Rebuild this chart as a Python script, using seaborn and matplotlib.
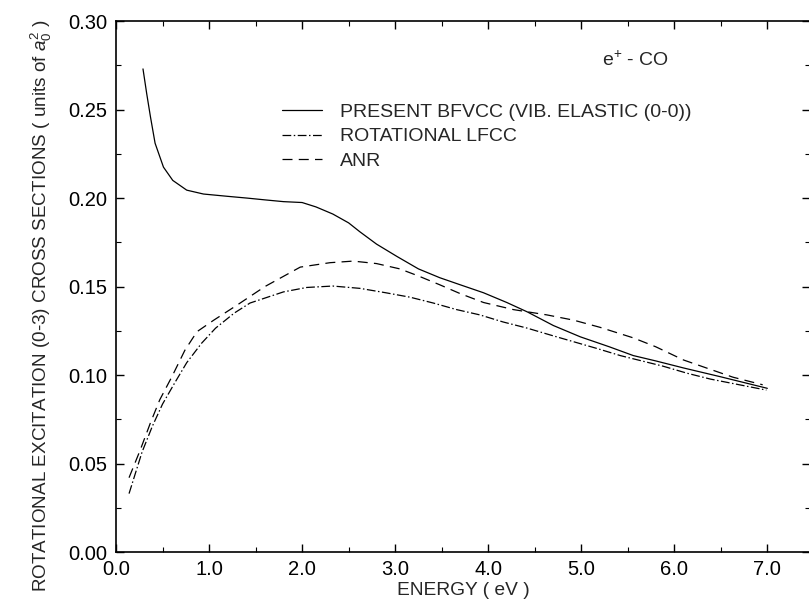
import matplotlib
matplotlib.use("Agg")
import matplotlib.pyplot as plt
import seaborn as sns
from matplotlib.ticker import MultipleLocator, FormatStrFormatter

# e+ - CO rotational excitation (0-3) cross sections
present_x = [0.29, 0.33, 0.37, 0.42, 0.51, 0.61, 0.76, 0.94, 1.2, 1.41, 1.6, 1.8, 2.0, 2.15,
             2.33, 2.5, 2.62, 2.8, 3.02, 3.25, 3.48, 3.7, 3.95, 4.2, 4.42, 4.7, 4.99, 5.3,
             5.56, 5.8, 6.1, 6.5, 7.0]
present_y = [0.273, 0.259, 0.246, 0.231, 0.2175, 0.210, 0.2045, 0.2023, 0.201, 0.200, 0.199,
             0.198, 0.1975, 0.195, 0.191, 0.186, 0.181, 0.174, 0.167, 0.160, 0.155, 0.151,
             0.1465, 0.141, 0.1357, 0.128, 0.1216, 0.116, 0.111, 0.108, 0.104, 0.099, 0.0925]

lfcc_x = [0.14, 0.28, 0.39, 0.50, 0.63, 0.76, 0.92, 1.07, 1.27, 1.44, 1.8, 2.05, 2.33, 2.62,
          2.9, 3.16, 3.41, 3.66, 3.91, 4.16, 4.42, 4.67, 4.92, 5.17, 5.42, 5.65, 5.88, 6.14,
          6.39, 6.7, 6.99]
lfcc_y = [0.033, 0.0565, 0.071, 0.0836, 0.0955, 0.107, 0.118, 0.1265, 0.135, 0.1407, 0.147,
          0.1495, 0.1503, 0.149, 0.1465, 0.144, 0.1407, 0.137, 0.134, 0.130, 0.1265, 0.1226,
          0.1188, 0.115, 0.111, 0.108, 0.105, 0.101, 0.0977, 0.0945, 0.0915]

anr_x = [0.14, 0.26, 0.37, 0.47, 0.60, 0.74, 0.87, 1.05, 1.30, 1.6, 1.98, 2.3, 2.55, 2.8,
         3.05, 3.25, 3.48, 3.7, 3.95, 4.27, 4.63, 4.92, 5.2, 5.56, 5.8, 6.1, 6.4, 6.63, 6.95]
anr_y = [0.042, 0.0576, 0.073, 0.086, 0.099, 0.114, 0.1245, 0.131, 0.1395, 0.150, 0.161,
         0.1635, 0.1644, 0.163, 0.160, 0.156, 0.151, 0.146, 0.141, 0.137, 0.134, 0.131,
         0.127, 0.121, 0.116, 0.1085, 0.103, 0.0988, 0.0945]

labels = ["PRESENT BFVCC (VIB. ELASTIC (0-0))", "ROTATIONAL LFCC", "ANR"]

sns.set_theme(style="ticks")
plt.rcParams["font.family"] = ["Liberation Sans", "DejaVu Sans"]
plt.rcParams["mathtext.fontset"] = "custom"
plt.rcParams["mathtext.rm"] = "Liberation Sans"
plt.rcParams["mathtext.it"] = "Liberation Sans:italic"

fig = plt.figure(figsize=(8.09, 6.06), dpi=100)
ax = fig.add_axes([0.1434, 0.0891, 0.858, 0.876])

sns.lineplot(x=present_x, y=present_y, ax=ax, color="black", lw=0.9,
             linestyle="-", label=labels[0], sort=False)
sns.lineplot(x=lfcc_x, y=lfcc_y, ax=ax, color="black", lw=0.9,
             label=labels[1], sort=False)
ax.lines[-1].set_dashes([7, 2, 1.2, 2])
sns.lineplot(x=anr_x, y=anr_y, ax=ax, color="black", lw=0.9,
             label=labels[2], sort=False)
ax.lines[-1].set_dashes([8, 5])

ax.set_xlim(0, 7.46)
ax.set_ylim(0, 0.30)
ax.xaxis.set_major_locator(MultipleLocator(1.0))
ax.xaxis.set_minor_locator(MultipleLocator(0.5))
ax.yaxis.set_major_locator(MultipleLocator(0.05))
ax.yaxis.set_minor_locator(MultipleLocator(0.025))
ax.xaxis.set_major_formatter(FormatStrFormatter("%.1f"))
ax.yaxis.set_major_formatter(FormatStrFormatter("%.2f"))
ax.tick_params(which="both", direction="in", top=True, right=True, colors="black",
               labelsize=14.5)
ax.tick_params(which="major", length=6, width=1.0, pad=6)
ax.tick_params(which="minor", length=3.5, width=0.8)
for s in ax.spines.values():
    s.set_linewidth(1.2)
    s.set_color("black")

ax.set_xlabel("ENERGY ( eV )", fontsize=13.8)
ax.set_ylabel(r"ROTATIONAL EXCITATION (0-3) CROSS SECTIONS ( units of $\mathit{a}_0^2$ )",
              fontsize=13.6)
ax.xaxis.set_label_coords(0.5, -0.056)
ax.yaxis.set_label_coords(-0.09, 0.465)

ax.text(5.58, 0.278, r"e$^{+}$ - CO", fontsize=14, ha="center", va="center")

ax.legend(loc="upper left", bbox_to_anchor=(0.239, 0.845), frameon=False, fontsize=14,
          handlelength=2.05, handletextpad=0.95, labelspacing=0.35, borderpad=0,
          borderaxespad=0)

fig.savefig("out.png", dpi=100)
